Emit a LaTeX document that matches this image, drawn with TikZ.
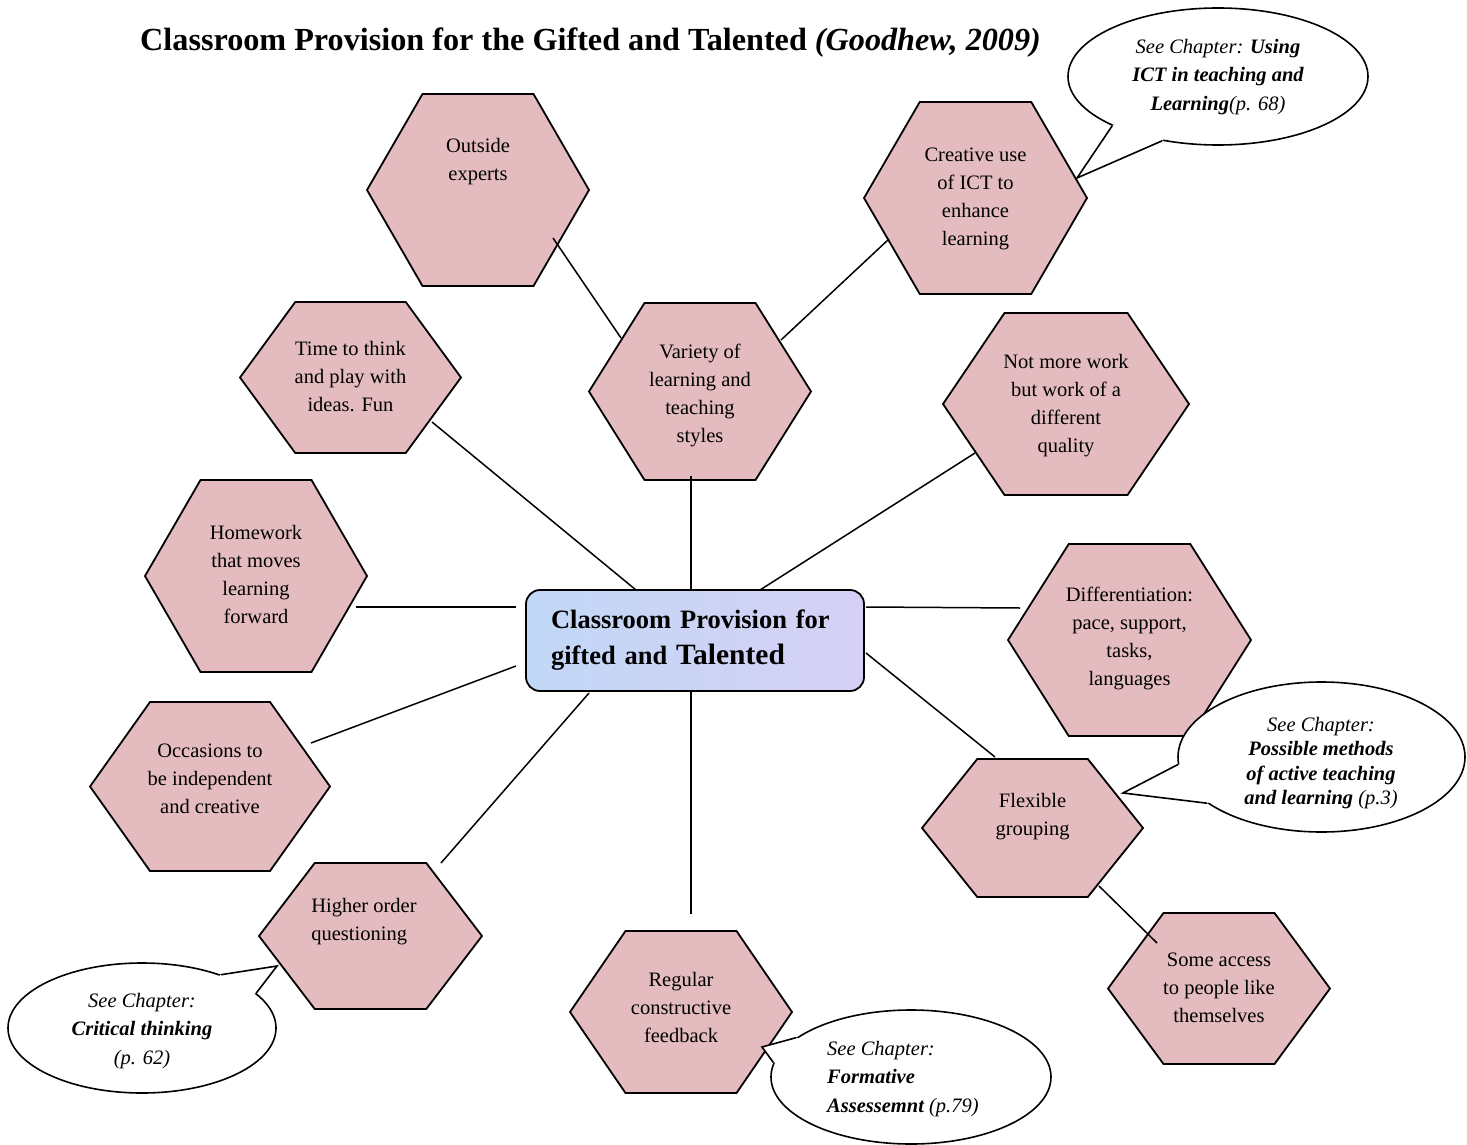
\documentclass[tikz,border=0pt]{standalone}
\usepackage{fontspec}
\setmainfont{Liberation Serif}
\usetikzlibrary{shapes.geometric,calc}
\definecolor{hexpink}{RGB}{228,188,192}
\definecolor{boxblue}{RGB}{194,216,247}
\definecolor{boxlav}{RGB}{214,208,245}
\tikzset{
 hexbox/.style={inner sep=0pt, outer sep=0pt, draw=none},
 hexline/.style={draw=black, line width=1.8pt, fill=hexpink, line join=miter},
 hextext/.style={align=center, font=\fontsize{20.5}{28}\selectfont, inner sep=0pt},
 conn/.style={draw=black, line width=1.5pt},
 bubble/.style={ellipse, draw=black, line width=1.6pt, fill=white, inner sep=0pt},
 bubtext/.style={align=center, font=\fontsize{20.5}{28.5}\selectfont\itshape, inner sep=0pt},
 tailline/.style={draw=black, line width=1.6pt, line join=miter},
}
\newcommand\HexShape[7]{%
  \node[hexbox, minimum width=#4, minimum height=#5] (#1) at (#2,#3) {};
  \draw[hexline] (#1.west) -- ($(#1.north west)!0.25!(#1.north east)$)
    -- ($(#1.north west)!0.75!(#1.north east)$) -- (#1.east)
    -- ($(#1.south west)!0.75!(#1.south east)$)
    -- ($(#1.south west)!0.25!(#1.south east)$) -- cycle;
  \node[hextext] (#1-t) at (#2,#6) {#7};
}
\newcommand\BubbleTail[4]{% name, angle1, angle2, tip
  \fill[white] ($(#1.#2)!6pt!(#1.center)$) -- (#1.#2) -- (#4) -- (#1.#3) -- ($(#1.#3)!6pt!(#1.center)$) -- cycle;
  \draw[tailline] (#1.#2) -- (#4) -- (#1.#3);
}
\begin{document}
\begin{tikzpicture}[x=1pt,y=-1pt]
\fill[white] (0,0) rectangle (1467,1145);
\useasboundingbox (0,0) rectangle (1467,1145);

% title
\node[anchor=base west, inner sep=0pt, font=\bfseries\fontsize{32.2}{36}\selectfont] (title) at (140,51)
  {Classroom Provision for the Gifted and Talented \textit{(Goodhew, 2009)}};

% hexagons
\HexShape{hOE}{478}{190}{222}{192}{162}{Outside\\experts}
\HexShape{hICT}{975.5}{198}{223}{192}{198.5}{Creative use\\of ICT to\\enhance\\learning}
\HexShape{hTT}{350.5}{377.5}{221}{151}{377}{Time to think\\and play with\\ideas. Fun}
\HexShape{hVA}{700}{391.5}{222}{177}{395}{Variety of\\learning and\\teaching\\styles}
\HexShape{hNM}{1066}{404}{246}{182}{406}{Not more work\\but work of a\\different\\quality}
\HexShape{hHW}{256}{576}{222}{192}{574}{Homework\\that moves\\learning\\forward}
\HexShape{hDF}{1129.5}{640}{243}{192}{638}{Differentiation:\\pace, support,\\tasks,\\languages}
\HexShape{hOC}{210}{786.5}{240}{169}{779}{Occasions to\\be independent\\and creative}
\HexShape{hFG}{1032.5}{828}{221}{138}{816.5}{Flexible\\grouping}
\HexShape{hHO}{370.5}{936}{223}{146}{922}{}
\node[hextext, align=left] (hHO-t) at (364,922) {Higher order\\questioning};
\HexShape{hRF}{681}{1012}{222}{162}{1007}{Regular\\constructive\\feedback}
\HexShape{hSA}{1219}{988.5}{222}{151}{987.5}{Some access\\to people like\\themselves}

% central box
\node[draw=black, line width=1.8pt, rounded corners=14pt, left color=boxblue, right color=boxlav,
      minimum width=338, minimum height=101, inner sep=0pt, text width=288, align=left,
      font=\bfseries\fontsize{26.5}{36}\selectfont] (box) at (695,640.5)
  {Classroom Provision for\\gifted and {\fontsize{29.5}{36}\selectfont Talented}};

% connector end points
\coordinate (pVA) at (691,476);   \coordinate (qVA) at (691,590);
\coordinate (pOE) at (553,238);   \coordinate (qOE) at (621,338);
\coordinate (pICT) at (889,239);  \coordinate (qICT) at (781,340);
\coordinate (pTT) at (432,422);   \coordinate (qTT) at (636,590);
\coordinate (pNM) at (975,453);   \coordinate (qNM) at (760,590);
\coordinate (pHW) at (356,607);   \coordinate (qHW) at (516,607);
\coordinate (pDF) at (1020,608);  \coordinate (qDF) at (866,607);
\coordinate (pOC) at (311,743);   \coordinate (qOC) at (516,666);
\coordinate (pHO) at (441,863);   \coordinate (qHO) at (589,693);
\coordinate (pRF) at (691,914);   \coordinate (qRF) at (691,691);
\coordinate (pFG) at (995,757);   \coordinate (qFG) at (866,653);
\coordinate (pSA) at (1157,943);  \coordinate (qSA) at (1099,886);

\draw[conn] (pVA) -- (qVA);
\draw[conn] (pOE) -- (qOE);
\draw[conn] (pICT) -- (qICT);
\draw[conn] (pTT) -- (qTT);
\draw[conn] (pNM) -- (qNM);
\draw[conn] (pHW) -- (qHW);
\draw[conn] (pDF) -- (qDF);
\draw[conn] (pOC) -- (qOC);
\draw[conn] (pHO) -- (qHO);
\draw[conn] (pRF) -- (qRF);
\draw[conn] (pFG) -- (qFG);
\draw[conn] (pSA) -- (qSA);

% callouts
\node[bubble, minimum width=300, minimum height=137] (cICT) at (1218,76.5) {};
\coordinate (tICT) at (1077,178);
\BubbleTail{cICT}{205}{229}{tICT}
\node[bubtext] (cICT-t) at (1218,77)
  {See Chapter: \textbf{Using}\\\textbf{ICT in teaching and}\\\textbf{Learning}(p. 68)};

\node[bubble, minimum width=287, minimum height=150] (cFG) at (1321.5,757) {};
\coordinate (tFG) at (1123,793);
\BubbleTail{cFG}{183}{202}{tFG}
\node[bubtext, font=\fontsize{20.5}{24.5}\selectfont\itshape] (cFG-t) at (1321,763)
  {See Chapter:\\\textbf{Possible methods}\\\textbf{of active teaching}\\\textbf{and learning} (p.3)};

\node[bubble, minimum width=268, minimum height=130] (cHO) at (142,1028) {};
\coordinate (tHO) at (277,966);
\BubbleTail{cHO}{34}{17}{tHO}
\node[bubtext] (cHO-t) at (142,1031)
  {See Chapter:\\\textbf{Critical thinking}\\(p. 62)};

\node[bubble, minimum width=280, minimum height=134] (cRF) at (911,1077) {};
\coordinate (tRF) at (762,1047);
\BubbleTail{cRF}{161}{174}{tRF}
\node[bubtext, align=left, anchor=west] (cRF-t) at (827,1079)
  {See Chapter:\\\textbf{Formative}\\\textbf{Assessemnt} (p.79)};
\end{tikzpicture}
\end{document}
